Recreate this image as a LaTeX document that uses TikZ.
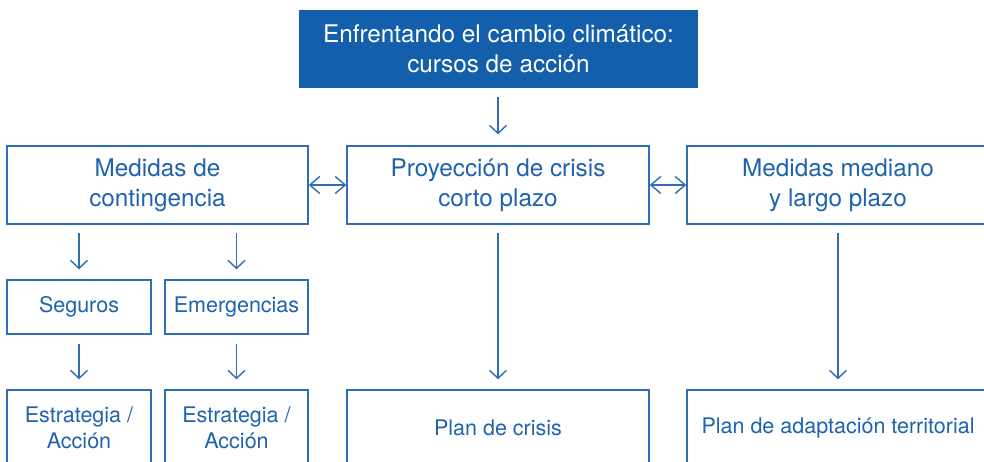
\documentclass[tikz,border=0pt]{standalone}
\usepackage{fontspec}
\setmainfont{TeX Gyre Heros}
\usetikzlibrary{arrows.meta}
\definecolor{titlefill}{HTML}{145FAB}
\definecolor{linec}{HTML}{2F6DB5}
\definecolor{textc}{HTML}{1F63AE}
\tikzset{
  box/.style={draw=linec, line width=1.4pt, fill=white, text=textc, align=center, inner sep=0pt},
  bigtxt/.style={font=\fontsize{24.3}{30}\selectfont},
  smalltxt/.style={font=\fontsize{21.5}{25.5}\selectfont},
  titlebox/.style={fill=titlefill, text=white, align=center, inner sep=0pt, font=\fontsize{24.3}{29.5}\selectfont},
  arr/.style={draw=linec, line width=1.4pt, -{Straight Barb[length=8pt,width=17pt,line width=1.4pt]}},
  darr/.style={draw=linec, line width=1.4pt, {Straight Barb[length=10pt,width=17pt,line width=1.4pt]}-{Straight Barb[length=10pt,width=17pt,line width=1.4pt]}},
}
\begin{document}
\begin{tikzpicture}[x=1pt,y=-1pt]
\useasboundingbox (0,0) rectangle (984,462);
\clip (0,0) rectangle (984,462);
% title
\node[titlebox, minimum width=399pt, minimum height=78pt] (title) at (498.5,49) {Enfrentando el cambio climático:\\cursos de acción};
% row 2
\node[box, bigtxt, minimum width=301pt, minimum height=78pt] (cont) at (157.5,185) {Medidas de\\contingencia};
\node[box, bigtxt, minimum width=302pt, minimum height=78pt] (proy) at (498,185) {Proyección de crisis\\corto plazo};
\node[box, bigtxt, minimum width=302pt, minimum height=78pt] (med) at (838,185) {Medidas mediano\\y largo plazo};
% row 3
\node[box, smalltxt, minimum width=144pt, minimum height=54pt] (seg) at (79,307) {Seguros};
\node[box, smalltxt, minimum width=143pt, minimum height=54pt] (emer) at (236.5,307) {Emergencias};
% row 4
\node[box, smalltxt, minimum width=144pt, minimum height=76pt] (est1) at (79,428) {Estrategia /\\Acción};
\node[box, smalltxt, minimum width=143pt, minimum height=76pt] (est2) at (236.5,428) {Estrategia /\\Acción};
\node[box, smalltxt, minimum width=302pt, minimum height=76pt] (plan) at (498,428) {Plan de crisis};
\node[box, smalltxt, minimum width=302pt, minimum height=76pt] (adapt) at (838,428) {Plan de adaptación territorial};
% arrows
\draw[arr, shorten <=9pt, shorten >=11pt] (title.south -| proy.north) -- (proy.north);
\draw[darr] (cont.east) -- (proy.west);
\draw[darr] (proy.east) -- (med.west);
\draw[arr, shorten <=8pt, shorten >=10pt] (cont.south -| seg.north) -- (seg.north);
\draw[arr, shorten <=8pt, shorten >=10pt] (cont.south -| emer.north) -- (emer.north);
\draw[arr, shorten <=9pt, shorten >=10pt] (seg.south) -- (est1.north);
\draw[arr, shorten <=9pt, shorten >=10pt] (emer.south) -- (est2.north);
\draw[arr, shorten <=8pt, shorten >=10pt] (proy.south) -- (plan.north);
\draw[arr, shorten <=8pt, shorten >=10pt] (med.south) -- (adapt.north);
\end{tikzpicture}
\end{document}
